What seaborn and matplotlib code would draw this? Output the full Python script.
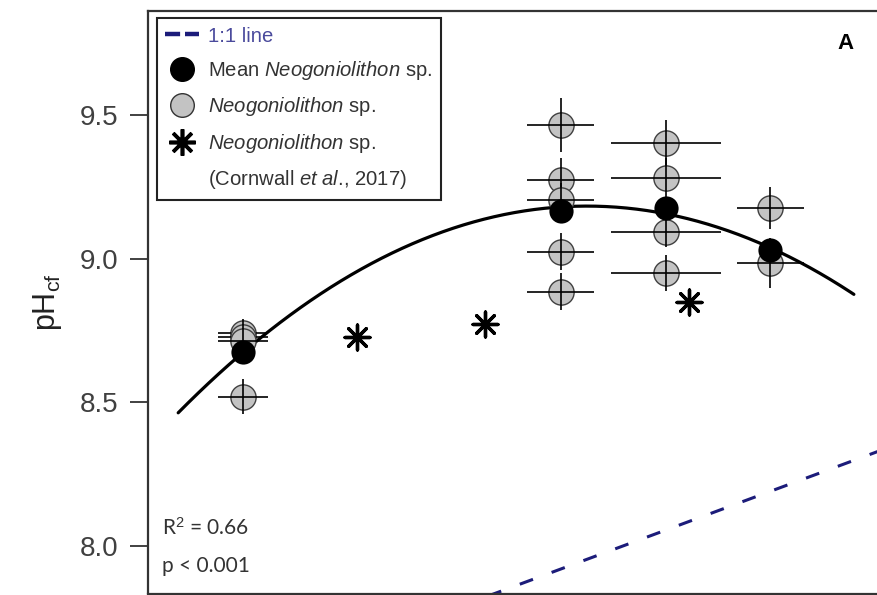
import numpy as np
import pandas as pd
import matplotlib
matplotlib.use("Agg")
import matplotlib.pyplot as plt
from matplotlib.lines import Line2D
import seaborn as sns

# Seawater pH (x) and calcifying-fluid pH (y) for Neogoniolithon sp.
group_x = [7.509, 7.919, 8.055, 8.190]
ind_x = [7.509, 7.509, 7.509, 7.509,
         7.919, 7.919, 7.919, 7.919, 7.919,
         8.055, 8.055, 8.055, 8.055,
         8.190, 8.190]
ind_y = [8.742, 8.728, 8.715, 8.520,
         9.467, 9.275, 9.206, 9.025, 8.886,
         9.403, 9.281, 9.095, 8.950,
         9.177, 8.985]
ind_xerr = [0.032, 0.032, 0.032, 0.032,
            0.043, 0.043, 0.043, 0.043, 0.043,
            0.071, 0.071, 0.071, 0.071,
            0.043, 0.043]
ind_yerr = [0.050, 0.045, 0.045, 0.060,
            0.094, 0.077, 0.060, 0.064, 0.064,
            0.080, 0.070, 0.055, 0.063,
            0.073, 0.087]
mean_y = [8.676, 9.168, 9.177, 9.031]

# Cornwall et al. (2017)
cornwall_x = [7.656, 7.822, 8.085]
cornwall_y = [8.729, 8.773, 8.851]

# Range over which the quadratic fit is drawn
fit_range = [7.425, 8.298]

sns.set_theme(style="white")
plt.rcParams["font.family"] = ["Liberation Sans", "DejaVu Sans"]
plt.rcParams["mathtext.fontset"] = "custom"
plt.rcParams["mathtext.rm"] = "Liberation Sans"
plt.rcParams["mathtext.it"] = "Liberation Sans:italic"

fig = plt.figure(figsize=(8.77, 5.95), dpi=100)
W, H = 877, 595
left_px, right_px, top_px, bot_px = 148, 882, 11, 593.5
ax = fig.add_axes([left_px / W, (H - bot_px) / H,
                   (right_px - left_px) / W, (bot_px - top_px) / H])

x_lo, x_hi = 7.386, 7.386 + (right_px - left_px) / 774
ax.set_xlim(x_lo, x_hi)
ax.set_ylim(7.834, 9.864)

means = pd.DataFrame({"pHsw": group_x, "pHcf": mean_y})
corn = pd.DataFrame({"pHsw": cornwall_x, "pHcf": cornwall_y})

# 1:1 reference line
ref = np.array([x_lo, x_hi])
ax.plot(ref, ref, color="#1c1c7a", lw=2.2, dashes=(4.6, 6.5), zorder=1)

# Quadratic regression through the treatment means
coef = np.polyfit(group_x, mean_y, 2)
xs = np.linspace(fit_range[0], fit_range[1], 200)
fit = pd.DataFrame({"pHsw": xs, "pHcf": np.polyval(coef, xs)})
sns.lineplot(data=fit, x="pHsw", y="pHcf", ax=ax, color="black", lw=2.3,
             zorder=2)

# Individual points with crosshair error bars
for xi, yi, xe, ye in zip(ind_x, ind_y, ind_xerr, ind_yerr):
    sns.scatterplot(x=[xi], y=[yi], ax=ax, s=330, marker="o",
                    color="#c3c3c3", edgecolor="#404040", linewidth=1.0,
                    zorder=3)
    ax.errorbar(xi, yi, xerr=xe, yerr=ye, fmt="none", ecolor="black",
                elinewidth=1.2, capsize=0, zorder=3)

sns.scatterplot(data=means, x="pHsw", y="pHcf", ax=ax, s=260, marker="o",
                color="black", edgecolor="black", zorder=4)
sns.scatterplot(data=corn, x="pHsw", y="pHcf", ax=ax, s=320,
                marker=(8, 2, 0), color="black", edgecolor="black",
                linewidth=2.4, zorder=4)

ax.set_xlabel("")
ax.set_xticks([])
ax.set_yticks([8.0, 8.5, 9.0, 9.5])
ax.set_yticklabels(["8.0", "8.5", "9.0", "9.5"])
ax.tick_params(axis="y", left=True, direction="out", length=13, width=1.3,
               labelsize=20, labelcolor="#404040", color="#333333", pad=8)
ax.set_ylabel("pH$_{\\mathrm{cf}}$", fontsize=22, color="#222222",
              labelpad=12)
for side in ["left", "top", "bottom", "right"]:
    ax.spines[side].set_color("#333333")
    ax.spines[side].set_linewidth(1.6)

ax.text(0.95, 0.945, "A", transform=ax.transAxes, fontsize=16,
        fontweight="bold", ha="center", va="center", color="black")

stat_font = ["Lato", "DejaVu Sans"]
ax.text(0.019, 0.112, "R$^2$ = 0.66", transform=ax.transAxes, fontsize=15,
        family=stat_font, color="#333333", va="center")
ax.text(0.019, 0.047, "p < 0.001", transform=ax.transAxes, fontsize=15,
        family=stat_font, color="#333333", va="center")

handles = [
    Line2D([], [], color="#1c1c7a", lw=3.2, dashes=(3.4, 1.1)),
    Line2D([], [], marker="o", ls="none", markersize=17,
           markerfacecolor="black", markeredgecolor="black"),
    Line2D([], [], marker="o", ls="none", markersize=17,
           markerfacecolor="#c3c3c3", markeredgecolor="#333333",
           markeredgewidth=1.0),
    Line2D([], [], marker=(8, 2, 0), ls="none", markersize=19,
           color="black", markeredgewidth=2.6),
    Line2D([], [], ls="none"),
]
labels = [
    "1:1 line",
    "Mean $\\mathit{Neogoniolithon}$ sp.",
    "$\\mathit{Neogoniolithon}$ sp.",
    "$\\mathit{Neogoniolithon}$ sp.",
    "(Cornwall $\\mathit{et}$ $\\mathit{al}$., 2017)",
]
leg = ax.legend(handles, labels, loc="upper left",
                bbox_to_anchor=(0.012, 0.988), fontsize=14.6,
                frameon=True, fancybox=False, framealpha=1,
                edgecolor="#222222", borderpad=0.42, handlelength=1.65,
                handletextpad=0.45, labelspacing=0.66, borderaxespad=0)
leg.get_frame().set_linewidth(1.5)
for t in leg.get_texts():
    t.set_color("#333333")
leg.get_texts()[0].set_color("#4a4a9c")

fig.savefig("out.png", dpi=100)
